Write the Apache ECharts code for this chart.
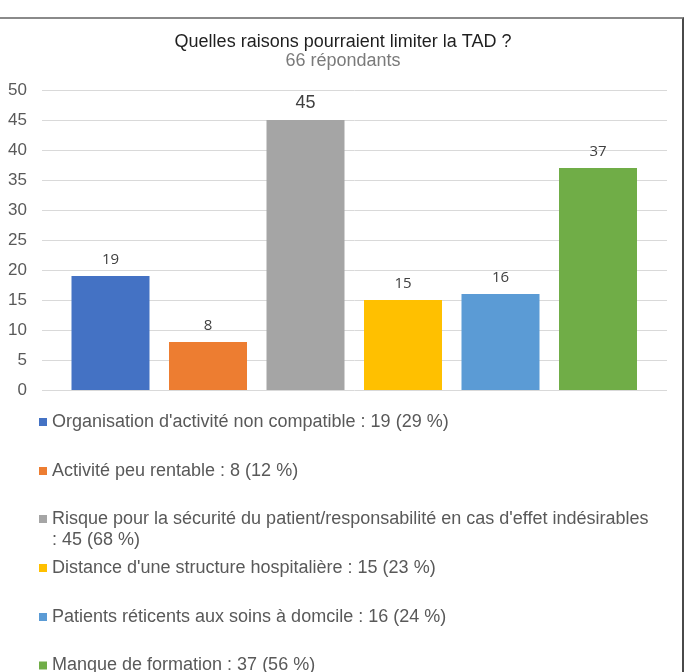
<!DOCTYPE html>
<html>
<head>
<meta charset="utf-8">
<script src="https://cdn.jsdelivr.net/npm/echarts@6/dist/echarts.min.js"></script>
<style>
  html, body { margin: 0; padding: 0; background: #fff; overflow: hidden; }
  #chart { position: absolute; left: 0; top: 0; width: 686px; height: 672px; }
  #frame { position: absolute; left: -3px; top: 17px; width: 687px; height: 700px; box-sizing: border-box;
           border-top: 2px solid #8a8a8a; border-right: 2px solid #4a4a4a; pointer-events: none; }
</style>
</head>
<body>
<div id="chart"></div>
<div id="frame"></div>
<script>
// ---- data ----
const titleText = "Quelles raisons pourraient limiter la TAD ?";
const respondents = 66;
const categories = [
  "Organisation d'activité non compatible",
  "Activité peu rentable",
  "Risque pour la sécurité du patient/responsabilité en cas d'effet indésirables",
  "Distance d'une structure hospitalière",
  "Patients réticents aux soins à domcile",
  "Manque de formation"
];
const values = [19, 8, 45, 15, 16, 37];
const yTicks = [0, 5, 10, 15, 20, 25, 30, 35, 40, 45, 50];

// ---- styling / layout ----
const colors = ["#4472C4", "#ED7D31", "#A5A5A5", "#FFC000", "#5B9BD5", "#70AD47"];
const legendTops = [411.5, 460.5, 508.5, 557.5, 606.5, 655];
const FONT = "'Liberation Sans', Arial, sans-serif";

const names = categories.map((c, i) =>
  c + " : " + values[i] + " (" + Math.round(values[i] / respondents * 100) + " %)");

const series = categories.map((c, i) => ({
  name: names[i],
  type: 'bar',
  stack: 'all',
  xAxisIndex: 1,
  yAxisIndex: 1,
  barCategoryGap: '20%',
  itemStyle: { color: colors[i] },
  label: {
    show: true,
    position: 'top',
    distance: i === 2 ? 8 : 9,
    color: '#404040',
    fontFamily: i === 2 ? FONT : "'Open Sans', sans-serif",
    fontSize: i === 2 ? 18 : 15
  },
  data: categories.map((_, j) => (j === i ? values[i] : null))
}));

const legends = names.map((n, i) => {
  const isLong = n.length > 70;
  return {
    data: [n],
    orient: 'vertical',
    left: 39,
    top: legendTops[i],
    padding: 0,
    itemWidth: 8,
    itemHeight: isLong ? 29 : 8,
    icon: isLong ? 'path://M0,0L8,0L8,8L0,8ZM0,29L8,29' : 'rect',
    formatter: name => (isLong ? name.replace(' : ', '\n: ') : name),
    textStyle: { color: '#595959', fontFamily: FONT, fontSize: 18, lineHeight: 21 }
  };
});

const chart = echarts.init(document.getElementById('chart'), null, { renderer: 'canvas' });
chart.setOption({
  animation: false,
  backgroundColor: 'transparent',
  title: {
    text: titleText,
    subtext: respondents + " répondants",
    left: 'center',
    top: 32.5,
    padding: 0,
    itemGap: 0,
    textStyle: { color: '#1f1f1f', fontFamily: FONT, fontSize: 18, fontWeight: 'normal', lineHeight: 19 },
    subtextStyle: { color: '#7a7a7a', fontFamily: FONT, fontSize: 18, lineHeight: 19 }
  },
  legend: legends,
  grid: [
    { left: 42, right: 19, top: 90, bottom: 282 },
    { left: 61.75, right: 39.25, top: 90, bottom: 282 }
  ],
  xAxis: [
    { type: 'value', gridIndex: 0, show: false, min: 0, max: 1 },
    { type: 'category', gridIndex: 1, data: categories, show: false }
  ],
  yAxis: [
    {
      type: 'value', gridIndex: 0, min: yTicks[0], max: yTicks[yTicks.length - 1], interval: yTicks[1] - yTicks[0],
      axisLine: { show: false }, axisTick: { show: false },
      axisLabel: { color: '#595959', fontFamily: FONT, fontSize: 17, margin: 15 },
      splitLine: { lineStyle: { color: '#d9d9d9', width: 1 } }
    },
    {
      type: 'value', gridIndex: 1, min: yTicks[0], max: yTicks[yTicks.length - 1], interval: yTicks[1] - yTicks[0],
      show: false, splitLine: { show: false }
    }
  ],
  series: series
});
</script>
</body>
</html>
